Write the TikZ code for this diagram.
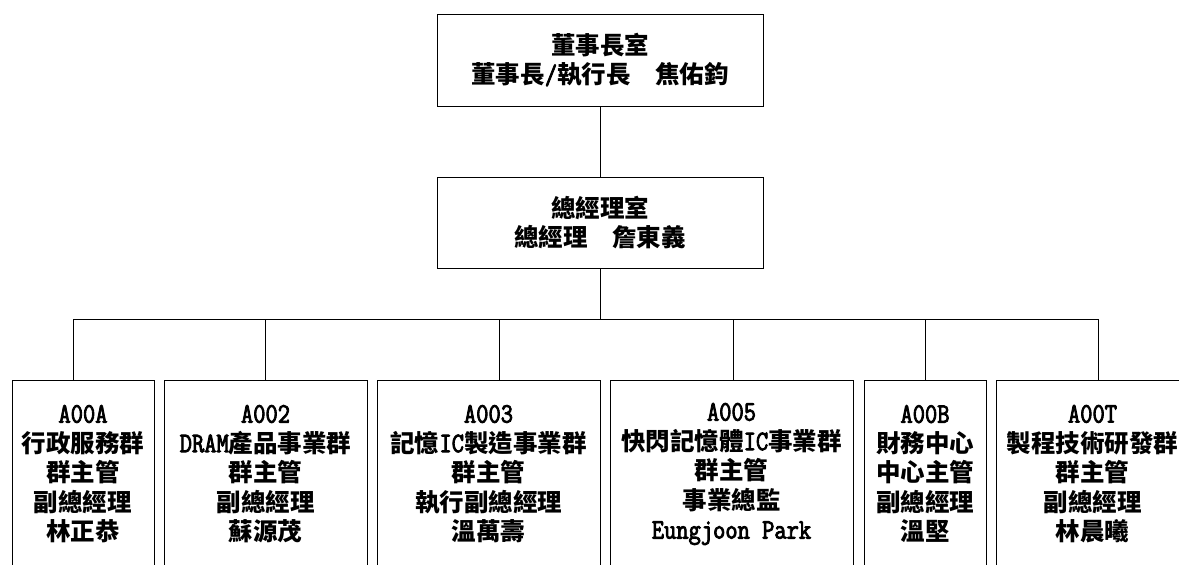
\documentclass[tikz,border=0pt]{standalone}
\usepackage{fontspec}
\setmainfont{Liberation Serif}
\newfontfamily\cjk{Noto Sans CJK TC}
\newfontfamily\lat{Latin Modern Mono}[Scale=1.15, FakeStretch=0.845, FakeBold=3, BoldFont={Latin Modern Mono}, BoldFeatures={FakeBold=3}]
\newcommand\LT[1]{{\lat #1}}
\begin{document}
\begin{tikzpicture}[x=1pt,y=-1pt,
  box/.style={draw, line width=1pt, inner sep=0pt, align=center,
    font=\cjk\bfseries\fontsize{24.5}{29.5}\selectfont},
  unit/.style={box, minimum height=188pt},
  conn/.style={line width=1pt}]
\useasboundingbox (0,0) rectangle (1179,565);
\clip (0,0) rectangle (1179,565);
\node[box, minimum width=326pt, minimum height=92pt] (chair) at (600,60)
  {董事長室\\董事長\LT{/}執行長　焦佑鈞};
\node[box, minimum width=326pt, minimum height=91pt] (gm) at (600,222.5)
  {總經理室\\總經理　詹東義};
\node[unit, minimum width=142pt] (b1) at (83,474)
  {\LT{A00A}\\行政服務群\\群主管\\副總經理\\林正恭};
\node[unit, minimum width=203pt] (b2) at (265.5,474)
  {\LT{A002}\\\LT{DRAM}產品事業群\\群主管\\副總經理\\蘇源茂};
\node[unit, minimum width=223pt] (b3) at (488.5,474)
  {\LT{A003}\\記憶\LT{IC}製造事業群\\群主管\\執行副總經理\\溫萬壽};
\node[unit, minimum width=243pt] (b4) at (731.5,474)
  {\LT{A005}\\快閃記憶體\LT{IC}事業群\\群主管\\事業總監\\\LT{Eungjoon Park}};
\node[unit, minimum width=122pt] (b5) at (925,474)
  {\LT{A00B}\\財務中心\\中心主管\\副總經理\\溫堅};
\node[unit, minimum width=193pt] (b6) at (1092.5,474)
  {\LT{A00T}\\製程技術研發群\\群主管\\副總經理\\林晨曦};
\coordinate (hub) at (600,319);
\coordinate (d1) at (73,319);
\coordinate (d2) at (265,319);
\coordinate (d3) at (499,319);
\coordinate (d4) at (733,319);
\coordinate (d5) at (925,319);
\coordinate (d6) at (1098,319);
\draw[conn] (chair.south) -- (gm.north);
\draw[conn] (gm.south) -- (hub);
\draw[conn] (d1) -- (d6);
\foreach \i in {1,...,6} {\draw[conn] (d\i) -- (d\i |- b\i.north);}
\end{tikzpicture}
\end{document}
